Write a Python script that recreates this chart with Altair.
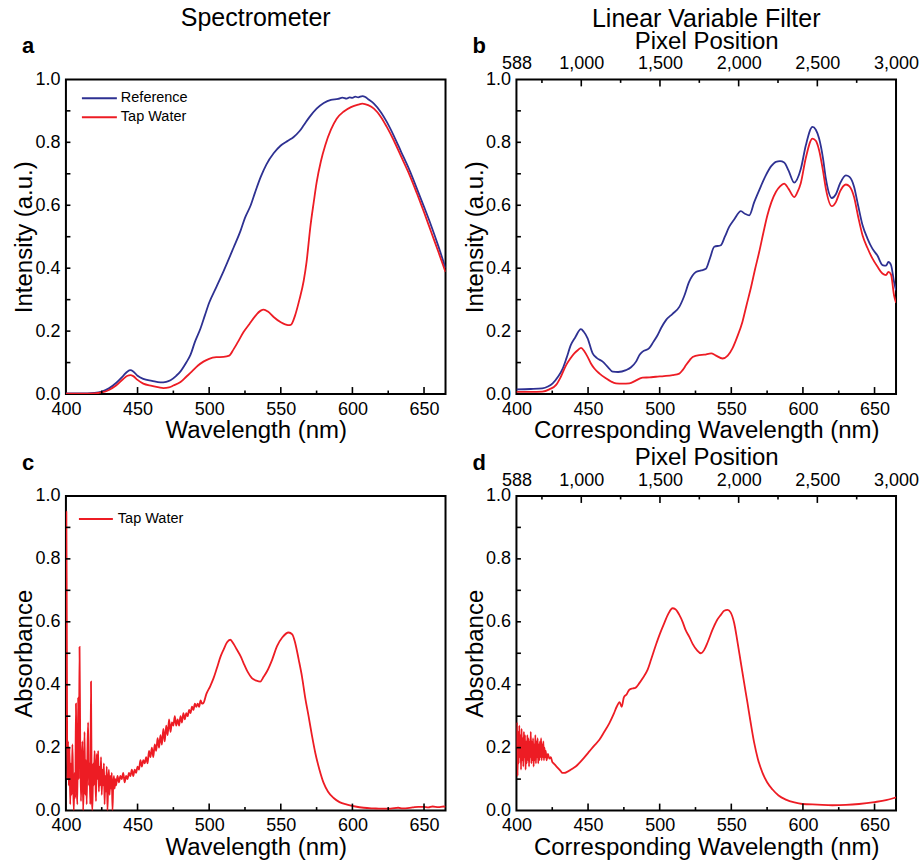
import altair as alt
import pandas as pd

# ---------------- data ----------------
# Panel a: Spectrometer intensity
A_WL_REF = [400, 410, 420, 425, 430, 435, 440, 443, 445, 447, 450, 454, 460, 466, 470, 473, 477, 480, 484, 487,
            490, 494, 497, 500, 505, 510, 517, 522, 525, 529, 532, 536, 540, 545, 550, 555, 559, 563, 566, 570,
            575, 580, 585, 590, 593, 596, 598, 600, 602, 604, 607, 609, 611, 615, 620, 624, 629, 634, 640, 645,
            650, 655, 660, 665]
A_INT_REF = [0.002, 0.002, 0.004, 0.008, 0.018, 0.035, 0.058, 0.072, 0.076, 0.072, 0.058, 0.048, 0.042, 0.037, 0.039,
             0.044, 0.058, 0.072, 0.100, 0.125, 0.165, 0.209, 0.250, 0.290, 0.340, 0.390, 0.465, 0.520, 0.560, 0.600,
             0.640, 0.690, 0.730, 0.765, 0.790, 0.805, 0.817, 0.835, 0.854, 0.880, 0.907, 0.925, 0.935, 0.938, 0.942,
             0.939, 0.943, 0.941, 0.945, 0.943, 0.947, 0.944, 0.937, 0.923, 0.895, 0.865, 0.820, 0.770, 0.710, 0.653,
             0.595, 0.535, 0.470, 0.400]
A_WL_TAP = [400, 410, 420, 425, 430, 435, 440, 443, 445, 447, 450, 454, 460, 465, 468, 472, 475, 480, 484, 488,
            492, 496, 500, 505, 510, 514, 517, 520, 524, 528, 532, 536, 538, 541, 545, 550, 555, 557, 560, 563,
            566, 568, 570.6, 573, 575, 578, 581, 585, 589, 594, 599, 604, 607, 611, 615, 620, 624, 629, 634, 640,
            645, 650, 655, 660, 665]
A_INT_TAP = [0.001, 0.001, 0.002, 0.005, 0.013, 0.027, 0.048, 0.058, 0.060, 0.057, 0.045, 0.033, 0.026, 0.021, 0.019,
             0.021, 0.027, 0.038, 0.055, 0.072, 0.090, 0.103, 0.112, 0.117, 0.118, 0.122, 0.142, 0.165, 0.197, 0.222,
             0.247, 0.265, 0.268, 0.262, 0.245, 0.228, 0.219, 0.220, 0.250, 0.300, 0.360, 0.420, 0.530, 0.610, 0.672,
             0.740, 0.790, 0.840, 0.875, 0.898, 0.912, 0.920, 0.923, 0.918, 0.907, 0.880, 0.849, 0.805, 0.755, 0.695,
             0.638, 0.578, 0.515, 0.452, 0.388]

# Panel b: Linear variable filter intensity
B_WL_REF = [400, 410, 418, 422, 425.3, 429, 432.3, 435, 438, 441, 445, 447, 449.7, 453.2, 456, 460.2, 464, 467.2,
            471, 476.5, 480, 483.5, 486, 488.1, 492.7, 495.5, 498.5, 501, 504.4, 509, 513.7, 517, 520.6, 525.3, 529,
            532.3, 535, 538.1, 542.7, 545.5, 548.5, 552, 556.7, 559.5, 562.5, 566, 569.5, 574.1, 578, 581.1, 584,
            586.9, 590, 593.9, 598.5, 602, 606.7, 609, 611.3, 614, 616, 620.2, 623, 626, 630, 632.5, 635.7, 638.5,
            641.6, 645, 648.5, 652, 655.5, 658, 659.7, 661.5, 663.6, 665]
B_INT_REF = [0.015, 0.016, 0.018, 0.024, 0.034, 0.055, 0.081, 0.115, 0.156, 0.180, 0.206, 0.198, 0.177, 0.129, 0.115,
             0.103, 0.085, 0.071, 0.070, 0.076, 0.085, 0.103, 0.125, 0.135, 0.146, 0.165, 0.187, 0.210, 0.235, 0.255,
             0.277, 0.310, 0.357, 0.388, 0.393, 0.398, 0.430, 0.468, 0.473, 0.500, 0.531, 0.555, 0.581, 0.573, 0.568,
             0.610, 0.648, 0.695, 0.725, 0.738, 0.740, 0.736, 0.710, 0.672, 0.715, 0.790, 0.849, 0.840, 0.812, 0.750,
             0.685, 0.623, 0.635, 0.670, 0.695, 0.690, 0.659, 0.600, 0.537, 0.495, 0.462, 0.440, 0.410, 0.408, 0.420,
             0.410, 0.357, 0.330]
B_WL_TAP = [400, 410, 418, 423, 427.7, 431, 434.7, 437.5, 440.4, 443, 445.1, 447.5, 449.7, 452, 454.4, 458, 462.5,
            466, 469.5, 474, 478.8, 483, 486, 488.1, 493, 497.4, 503, 509, 513.7, 516, 518.4, 521, 523, 527.6, 531,
            536, 539, 543.9, 547.5, 550.8, 554, 557.8, 560.5, 563.6, 566.5, 569.5, 572.5, 575.2, 578, 581.1, 584,
            586.9, 590, 593.9, 596, 598.5, 602, 606.7, 609, 611.3, 614, 616, 620.2, 623, 626, 630, 632.5, 635.7,
            638.5, 641.6, 645, 648.5, 652, 655.5, 658, 659.7, 661.5, 663.6, 665]
B_INT_TAP = [0.007, 0.007, 0.008, 0.015, 0.029, 0.055, 0.092, 0.112, 0.129, 0.140, 0.147, 0.135, 0.118, 0.097, 0.081,
             0.065, 0.050, 0.040, 0.034, 0.033, 0.034, 0.042, 0.049, 0.052, 0.053, 0.055, 0.057, 0.060, 0.065, 0.076,
             0.092, 0.108, 0.118, 0.124, 0.125, 0.129, 0.123, 0.113, 0.122, 0.145, 0.180, 0.230, 0.280, 0.336, 0.395,
             0.452, 0.515, 0.568, 0.610, 0.642, 0.660, 0.669, 0.652, 0.626, 0.640, 0.670, 0.750, 0.812, 0.805, 0.775,
             0.710, 0.653, 0.597, 0.610, 0.645, 0.666, 0.660, 0.626, 0.565, 0.505, 0.465, 0.431, 0.405, 0.383, 0.378,
             0.388, 0.380, 0.314, 0.290]

# Panel c: Spectrometer absorbance (tap water)
C_WL = [400.0, 400.3, 400.6, 401.0, 401.5, 402.0, 402.5, 403.0, 403.5, 404.0, 404.5, 405.0, 405.5, 406.0, 406.5,
        407.0, 407.5, 408.0, 408.5, 409.0, 409.5, 410.0, 410.5, 411.0, 411.5, 412.0, 412.5, 413.0, 413.5, 414.0,
        414.5, 415.0, 415.5, 416.0, 416.5, 417.0, 417.5, 418.0, 418.5, 419.0, 419.5, 420.0, 420.5, 421.0, 421.5,
        422.0, 422.5, 423.0, 423.5, 424.0, 424.5, 425.0, 425.5, 426.0, 426.5, 427.0, 427.5, 428.0, 428.5, 429.0,
        429.5, 430.0, 430.5, 431.0, 431.5, 432.0, 432.5, 433.0, 433.5, 434.0, 434.5, 435.0,
        436, 437, 438, 439, 440, 441, 442, 443, 444, 445, 446, 447, 448, 449, 450, 451, 452, 453, 454, 455, 456,
        457, 458, 459, 460, 461, 462, 463, 464, 465, 466, 467, 468, 469, 470, 471, 472, 473, 474, 475, 476, 477,
        478, 479, 480, 481, 482, 483, 484, 485, 486, 487, 488, 489, 490, 491, 492, 493, 494, 495, 496, 498,
        500.7, 503, 505.4, 508, 510, 512.5, 514.7, 517, 519.4, 522, 524, 527, 529.8, 533, 535.7, 538, 540.3, 544,
        547.3, 551, 555.5, 558, 560.1, 562.5, 564.8, 567, 569.4, 571.7, 574.1, 577, 579.9, 583, 586.9, 591, 596.3,
        602, 607.9, 615, 620, 626.6, 632, 635, 642, 646, 649.9, 653, 656, 660, 663.6, 665]
C_ABS = [0.20, 0.95, 0.60, 0.10, 0.22, 0.08, 0.20, 0.02, 0.15, 0.05, 0.21, 0.10, 0.00, 0.12, 0.04,
         0.34, 0.08, 0.02, 0.36, 0.10, 0.52, 0.20, 0.03, 0.15, 0.22, 0.00, 0.10, 0.25, 0.05, 0.16,
         0.02, 0.18, 0.28, 0.08, 0.15, 0.02, 0.41, 0.05, 0.00, 0.15, 0.08, 0.19, 0.12, 0.03, 0.18,
         0.10, 0.19, 0.06, 0.14, 0.08, 0.17, 0.05, 0.13, 0.08, 0.15, 0.02, 0.11, 0.06, 0.14, 0.00,
         0.09, 0.13, 0.05, 0.11, 0.07, 0.12, 0.00, 0.08, 0.11, 0.07, 0.10, 0.08,
         0.11, 0.09, 0.11, 0.10, 0.12, 0.09, 0.11, 0.10, 0.12, 0.11, 0.13, 0.11, 0.13, 0.12, 0.14, 0.13, 0.16, 0.14,
         0.16, 0.15, 0.17, 0.15, 0.19, 0.17, 0.20, 0.17, 0.21, 0.19, 0.23, 0.20, 0.24, 0.21, 0.26, 0.22, 0.27, 0.24,
         0.29, 0.25, 0.28, 0.27, 0.30, 0.27, 0.29, 0.27, 0.30, 0.28, 0.31, 0.29, 0.31, 0.30, 0.32, 0.31, 0.33, 0.32,
         0.34, 0.33, 0.34, 0.33, 0.35, 0.34, 0.342, 0.370,
         0.395, 0.420, 0.453, 0.490, 0.511, 0.535, 0.543, 0.530, 0.511, 0.490, 0.469, 0.440, 0.421, 0.413, 0.410,
         0.425, 0.442, 0.480, 0.522, 0.550, 0.566, 0.560, 0.532, 0.480, 0.426, 0.360, 0.300, 0.240, 0.183, 0.130,
         0.088, 0.060, 0.040, 0.027, 0.019, 0.013, 0.009, 0.007, 0.006, 0.006, 0.009, 0.007, 0.010, 0.012, 0.012,
         0.010, 0.013, 0.011, 0.013, 0.012]

# Panel d: Linear variable filter absorbance (tap water)
D_WL = [400.0, 400.4, 400.8, 401.2, 401.6, 402.0, 402.4, 402.8, 403.2, 403.6, 404.0, 404.4, 404.8, 405.2, 405.6,
        406.0, 406.4, 406.8, 407.2, 407.6, 408.0, 408.4, 408.8, 409.2, 409.6, 410.0, 410.4, 410.8, 411.2, 411.6,
        412.0, 412.4, 412.8, 413.2, 413.6, 414.0, 414.4, 414.8, 415.2, 415.6, 416.0, 416.4, 416.8, 417.2, 417.6,
        418.0, 418.4, 418.8, 419.2, 419.6, 420.0, 420.5, 421, 422, 423, 424, 425, 426, 427, 428, 429, 430, 431,
        432, 433.5, 435, 437, 439, 441.6, 444, 447, 450.9, 454, 457.9, 461, 464.9, 468, 470, 472, 473.5, 475, 477,
        478.8, 481, 483, 485.8, 488, 491.6, 494, 497.4, 500, 503.2, 506, 509, 511, 513.7, 516, 518, 520.6, 523,
        526, 528.8, 531, 533.5, 536.9, 540, 542.7, 545, 547.4, 549.5, 552, 554, 556.7, 559, 561.3, 563.5, 566,
        568.5, 571.8, 575, 578.8, 583, 588.1, 594, 599.7, 610, 620.6, 630, 639.2, 650, 658, 663.6, 665]
D_ABS = [0.20, 0.28, 0.11, 0.25, 0.15, 0.27, 0.17, 0.24, 0.13, 0.26, 0.16, 0.23, 0.14, 0.25, 0.17,
         0.24, 0.13, 0.22, 0.15, 0.24, 0.16, 0.23, 0.14, 0.22, 0.17, 0.25, 0.15, 0.22, 0.16, 0.23,
         0.14, 0.21, 0.16, 0.24, 0.15, 0.22, 0.17, 0.23, 0.15, 0.21, 0.16, 0.22, 0.17, 0.23, 0.16,
         0.21, 0.17, 0.22, 0.16, 0.20, 0.17, 0.19, 0.16, 0.18, 0.165, 0.17, 0.155, 0.150, 0.145, 0.140, 0.135,
         0.130, 0.125, 0.120, 0.120, 0.122, 0.127, 0.133, 0.141, 0.152, 0.167, 0.188, 0.205, 0.225, 0.248, 0.278,
         0.308, 0.330, 0.345, 0.330, 0.360, 0.370, 0.384, 0.388, 0.390, 0.405, 0.420, 0.448, 0.480, 0.527, 0.560,
         0.596, 0.625, 0.643, 0.640, 0.622, 0.600, 0.575, 0.553, 0.530, 0.510, 0.500, 0.510, 0.535, 0.575, 0.605,
         0.622, 0.635, 0.638, 0.630, 0.596, 0.545, 0.469, 0.405, 0.342, 0.280, 0.215, 0.165, 0.120, 0.090, 0.067,
         0.048, 0.035, 0.026, 0.021, 0.019, 0.017, 0.018, 0.021, 0.027, 0.033, 0.040, 0.042]

SERIES = ["Reference", "Tap Water"]
X_MAJOR = [400, 450, 500, 550, 600, 650]
X_MINOR = [425, 475, 525, 575, 625]
Y_LABELS = [0.0, 0.2, 0.4, 0.6, 0.8, 1.0]
Y_TICKS = [0.1, 0.2, 0.3, 0.4, 0.5, 0.6, 0.7, 0.8, 0.9]
PX_LABELS = [588, 1000, 1500, 2000, 2500, 3000]
PX_MINOR = [750, 1250, 1750, 2250, 2750]

# ---------------- styling ----------------
BLUE = "#2E3192"
RED = "#ED1C24"
FONT = "Liberation Sans"
W, H = 380, 315
TICK_FS = 18
TITLE_FS = 24

xs = alt.Scale(domain=[400, 665], nice=False, zero=False)
ys = alt.Scale(domain=[0, 1], nice=False, zero=False)
pxs = alt.Scale(domain=[588, 3000], nice=False, zero=False)
FRAME = alt.ViewBackground(stroke="black", strokeWidth=2)


def series_df(wl, val, name):
    return pd.DataFrame({"wl": wl, "val": val, "series": name})


def one():
    return pd.DataFrame({"k": [0]})


def build(df, xtitle, ytitle, letter, legend, top_axis, title=None):
    xax = alt.Axis(values=X_MAJOR, title=xtitle, ticks=False, domain=False, grid=False,
                   labelFlush=False, labelPadding=6, titlePadding=1)
    yax = alt.Axis(values=Y_LABELS, format=".1f", title=ytitle, ticks=False, grid=False,
                   domain=False, labelFlush=False, labelPadding=6, titlePadding=-2)
    lines = alt.Chart(df).mark_line(strokeWidth=1.8, interpolate="monotone", clip=True).encode(
        x=alt.X("wl:Q", scale=xs, axis=xax),
        y=alt.Y("val:Q", scale=ys, axis=yax),
        color=alt.Color("series:N", scale=alt.Scale(domain=SERIES, range=[BLUE, RED]), legend=None),
        order=alt.Order("wl:Q"),
    )
    xmaj = alt.Chart(pd.DataFrame({"wl": X_MAJOR[1:]})).mark_rule(color="black", strokeWidth=1.6).encode(
        x=alt.X("wl:Q", scale=xs, axis=xax), y=alt.value(H), y2=alt.value(H - 7))
    xmin = alt.Chart(pd.DataFrame({"wl": X_MINOR})).mark_rule(color="black", strokeWidth=1.6).encode(
        x=alt.X("wl:Q", scale=xs, axis=xax), y=alt.value(H), y2=alt.value(H - 3.5))
    ytk = alt.Chart(pd.DataFrame({"val": Y_TICKS})).mark_rule(color="black", strokeWidth=1.6).encode(
        y=alt.Y("val:Q", scale=ys, axis=yax), x=alt.value(0), x2=alt.value(4.5))
    let = alt.Chart(one()).mark_text(text=letter, font=FONT, fontSize=22, fontWeight="bold",
                                     align="left", baseline="alphabetic", color="black").encode(
        x=alt.value(-44), y=alt.value(-26))
    layers = [lines, xmaj, xmin, ytk, let]
    for (name, color, lx1, lx2, ly, tx) in legend:
        layers.append(alt.Chart(one()).mark_rule(color=color, strokeWidth=2).encode(
            x=alt.value(lx1), x2=alt.value(lx2), y=alt.value(ly)))
        layers.append(alt.Chart(one()).mark_text(text=name, font=FONT, fontSize=14.5, align="left",
                                                 baseline="middle", color="black").encode(
            x=alt.value(tx), y=alt.value(ly)))
    main = alt.layer(*layers)
    if top_axis:
        pax = alt.Axis(orient="top", values=PX_LABELS, format=",.0f", title="Pixel Position", ticks=False,
                       domain=False, grid=False, labelFlush=False, labelPadding=6.5, titlePadding=1.5)
        pmaj = alt.Chart(pd.DataFrame({"p": PX_LABELS[1:-1]})).mark_rule(color="black", strokeWidth=1.6).encode(
            x=alt.X("p:Q", scale=pxs, axis=pax), y=alt.value(0), y2=alt.value(7))
        pmin = alt.Chart(pd.DataFrame({"p": PX_MINOR})).mark_rule(color="black", strokeWidth=1.6).encode(
            x=alt.X("p:Q", scale=pxs, axis=pax), y=alt.value(0), y2=alt.value(3.5))
        chart = alt.layer(main, alt.layer(pmaj, pmin)).resolve_scale(x="independent")
    else:
        chart = main
    props = dict(width=W, height=H, view=FRAME)
    if title is not None:
        props["title"] = title
    return chart.properties(**props)


df_a = pd.concat([series_df(A_WL_REF, A_INT_REF, "Reference"), series_df(A_WL_TAP, A_INT_TAP, "Tap Water")])
df_b = pd.concat([series_df(B_WL_REF, B_INT_REF, "Reference"), series_df(B_WL_TAP, B_INT_TAP, "Tap Water")])
df_c = series_df(C_WL, C_ABS, "Tap Water")
df_d = series_df(D_WL, D_ABS, "Tap Water")

t_a = alt.TitleParams("Spectrometer", font=FONT, fontSize=25, fontWeight="normal", color="black",
                      anchor="middle", frame="group", offset=4)
t_b = alt.TitleParams("Linear Variable Filter", font=FONT, fontSize=25, fontWeight="normal", color="black",
                      anchor="middle", frame="group", offset=-3)

pa = build(df_a, "Wavelength (nm)", "Intensity (a.u.)", "a",
           [("Reference", BLUE, 16, 51, 19, 55), ("Tap Water", RED, 16, 51, 38, 55)], False, t_a)
pb = build(df_b, "Corresponding Wavelength (nm)", "Intensity (a.u.)", "b", [], True, t_b)
pc = build(df_c, "Wavelength (nm)", "Absorbance", "c", [("Tap Water", RED, 13, 47, 23, 52)], False)
pd_ = build(df_d, "Corresponding Wavelength (nm)", "Absorbance", "d", [], True)

chart = alt.concat(pa, pb, pc, pd_, columns=2, spacing={"row": 102, "column": 71}, bounds="flush").properties(
    padding={"left": 11, "top": 5, "right": 2, "bottom": 5}, background="white"
).configure_view(stroke="black", strokeWidth=2).configure_axis(
    labelFont=FONT, labelFontSize=TICK_FS, labelColor="black", grid=False,
    titleFont=FONT, titleFontSize=TITLE_FS, titleFontWeight="normal", titleColor="black",
)

chart.save("out.html", embed_options={"renderer": "svg", "actions": False})
